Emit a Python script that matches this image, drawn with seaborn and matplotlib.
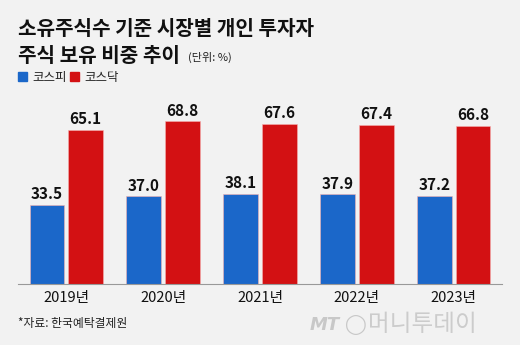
import matplotlib
matplotlib.use("Agg")
import matplotlib.pyplot as plt
import seaborn as sns
import pandas as pd

years = ["2019년", "2020년", "2021년", "2022년", "2023년"]
kospi = [33.5, 37.0, 38.1, 37.9, 37.2]
kosdaq = [65.1, 68.8, 67.6, 67.4, 66.8]
series_names = ["코스피", "코스닥"]
colors = ["#1b67c9", "#d31113"]

df = pd.DataFrame({
    "year": years * 2,
    "value": kospi + kosdaq,
    "market": [series_names[0]] * 5 + [series_names[1]] * 5,
})

sns.set_theme(style="white")
plt.rcParams["font.family"] = ["Noto Sans CJK KR", "DejaVu Sans"]
bg = "#f2f2f2"

fig = plt.figure(figsize=(5.2, 3.45), dpi=100, facecolor=bg)
ax = fig.add_axes([18/520, 1-284/345, 484/520, 184/345])
ax.set_facecolor(bg)

sns.barplot(data=df, x="year", y="value", hue="market", palette=colors,
            width=0.8, gap=0.1, ax=ax, legend=False, saturation=1,
            edgecolor="#f4b0b0", linewidth=0.4)

for cont in ax.containers:
    ax.bar_label(cont, fmt="%.1f", padding=2, fontsize=11, color="#111111",
                 fontweight="bold", fontstretch="condensed")

ax.set_xlim(-0.5, 4.5)
ax.set_ylim(0, 77.8)
ax.set_xlabel("")
ax.set_ylabel("")
ax.set_yticks([])
for s in ["top", "left", "right"]:
    ax.spines[s].set_visible(False)
ax.spines["bottom"].set_color("#999999")
ax.spines["bottom"].set_linewidth(0.8)
ax.tick_params(axis="x", which="major", length=0, labelsize=10.5, pad=5, colors="#111111")
ax.set_xticks([-0.5, 0.5, 1.5, 2.5, 3.5, 4.5], minor=True)
ax.tick_params(axis="x", which="minor", direction="in", length=3, color="#999999", width=0.8)

fig.text(18/520, 1-35/345, "소유주식수 기준 시장별 개인 투자자", fontsize=14.5,
         fontweight="bold", color="#111111", va="baseline")
fig.text(18/520, 1-62/345, "주식 보유 비중 추이", fontsize=14.5,
         fontweight="bold", color="#111111", va="baseline")
fig.text(188/520, 1-61/345, "(단위: %)", fontsize=8, color="#222222", va="baseline")

fig.patches.append(plt.Rectangle((18/520, 1-81/345), 9/520, 9/345, transform=fig.transFigure,
                                 color=colors[0], figure=fig))
fig.text(32/520, 1-80.5/345, series_names[0], fontsize=9, color="#222222", va="baseline")
fig.patches.append(plt.Rectangle((70/520, 1-81/345), 9/520, 9/345, transform=fig.transFigure,
                                 color=colors[1], figure=fig))
fig.text(84/520, 1-80.5/345, series_names[1], fontsize=9, color="#222222", va="baseline")

fig.text(18/520, 1-327/345, "*자료: 한국예탁결제원", fontsize=8.5, color="#222222", va="baseline")
fig.text(310/520, 1-330/345, "MT", fontsize=13, color="#c8c8c8", style="italic",
         fontweight="bold", va="baseline", family=["DejaVu Sans"])
fig.text(345/520, 1-330/345, "◯", fontsize=14, color="#c8c8c8", va="baseline", family=["DejaVu Sans"])
fig.text(368/520, 1-331/345, "머니투데이", fontsize=17, color="#cccccc", va="baseline")

fig.savefig("out.png", dpi=100, facecolor=bg)
